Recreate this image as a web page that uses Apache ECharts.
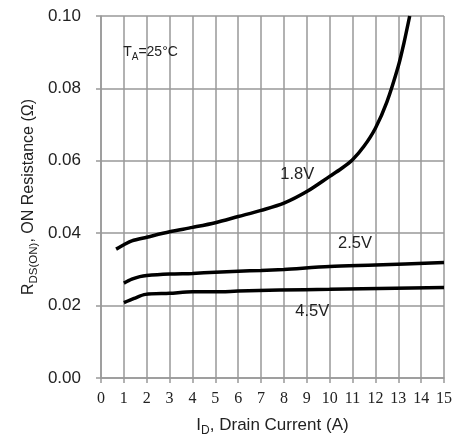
<!DOCTYPE html>
<html>
<head>
<meta charset="utf-8">
<script src="https://cdn.jsdelivr.net/npm/echarts@6/dist/echarts.min.js"></script>
<style>
  html, body { margin: 0; padding: 0; background: #fff; }
  #chart { width: 457px; height: 436px; }
</style>
</head>
<body>
<div id="chart"></div>
<script>
// drain current (A) and on resistance (ohm)
var current18 = [0.66, 1, 1.35, 2, 3, 4, 5, 6, 7, 8, 9, 10, 10.5, 11, 11.5, 12, 12.5, 13, 13.25, 13.5];
var rds18 = [0.0356, 0.0368, 0.0379, 0.0389, 0.0404, 0.0416, 0.0429, 0.0446, 0.0463, 0.0483, 0.0515, 0.0557, 0.0578, 0.0603, 0.064, 0.069, 0.0762, 0.0861, 0.0926, 0.100];

var current25 = [1, 1.35, 1.7, 2, 3, 4, 5, 6, 7, 8, 10, 12, 15];
var rds25 = [0.0262, 0.0273, 0.028, 0.0283, 0.0287, 0.0289, 0.0292, 0.0295, 0.0297, 0.0300, 0.0308, 0.0312, 0.0319];

var current45 = [1, 1.45, 1.95, 3, 4, 5, 6, 7.8, 10, 15];
var rds45 = [0.0208, 0.022, 0.0231, 0.0234, 0.0238, 0.0238, 0.024, 0.0243, 0.0245, 0.025];

var curveNames = ['1.8V', '2.5V', '4.5V'];
// where each curve label sits, in data units
var labelX = [8.58, 11.11, 9.24];
var labelY = [0.0561, 0.0373, 0.0185];

function pairs(xs, ys) {
    var out = [];
    for (var i = 0; i < xs.length; i++) out.push([xs[i], ys[i]]);
    return out;
}

var dom = document.getElementById('chart');
var myChart = echarts.init(dom);
var gridColor = '#999';
var sans = 'Liberation Sans, Arial, sans-serif';

// base text lifted a little so the small part reads as a subscript
function subRich(big, small) {
    return {
        b: { fontFamily: sans, fontSize: big, color: '#222', lineHeight: big + 3, verticalAlign: 'bottom', padding: [0, 0, 3, 0] },
        s: { fontFamily: sans, fontSize: small, color: '#222', lineHeight: small, verticalAlign: 'bottom' }
    };
}

function curve(idx, xs, ys) {
    return {
        name: curveNames[idx],
        type: 'line',
        smooth: 0.3,
        symbol: 'none',
        data: pairs(xs, ys),
        lineStyle: { color: '#000', width: 3.5 },
        markPoint: {
            symbol: 'circle',
            symbolSize: 0,
            label: {
                show: true,
                position: 'inside',
                formatter: curveNames[idx],
                fontFamily: sans,
                fontSize: 16.5,
                color: '#222'
            },
            data: [{ coord: [labelX[idx], labelY[idx]] }]
        }
    };
}

var option = {
    animation: false,
    backgroundColor: '#fff',
    grid: { left: 101, right: 13, top: 16, bottom: 58, outerBoundsMode: 'none' },
    xAxis: {
        type: 'value',
        min: 0, max: 15, interval: 1,
        name: '{b|I}{s|D}{b|, Drain Current (A)}',
        nameLocation: 'middle',
        nameGap: 39,
        nameTextStyle: { rich: subRich(17, 12) },
        axisLine: { lineStyle: { color: gridColor, width: 1.5 } },
        axisTick: { inside: false, length: 5, lineStyle: { color: gridColor, width: 1.5 } },
        axisLabel: { fontFamily: 'Liberation Serif, Times New Roman, serif', fontSize: 16, color: '#222', margin: 13 },
        splitLine: { show: true, lineStyle: { color: gridColor, width: 1.5 } }
    },
    yAxis: {
        type: 'value',
        min: 0, max: 0.1, interval: 0.02,
        name: '{b|R}{s|DS(ON)}{b|, ON Resistance (Ω)}',
        nameLocation: 'middle',
        nameGap: 61,
        nameMoveOverlap: false,
        nameTextStyle: { rich: subRich(16, 11.5) },
        axisLine: { show: true, lineStyle: { color: gridColor, width: 1.5 } },
        axisTick: { show: true, inside: false, length: 5, lineStyle: { color: gridColor, width: 1.5 } },
        axisLabel: {
            fontFamily: sans, fontSize: 17, color: '#222', margin: 20,
            formatter: function (v) { return v.toFixed(2); }
        },
        splitLine: { show: true, lineStyle: { color: gridColor, width: 1.5 } }
    },
    series: [
        curve(0, current18, rds18),
        curve(1, current25, rds25),
        curve(2, current45, rds45),
        {
            // temperature note
            type: 'scatter',
            data: [],
            markPoint: {
                symbol: 'circle',
                symbolSize: 0,
                label: {
                    show: true,
                    position: 'right',
                    distance: 0,
                    formatter: '{b|T}{s|A}{b|=25°C}',
                    rich: subRich(14, 10)
                },
                data: [{ coord: [0.97, 0.0896] }]
            }
        }
    ]
};

if (option && typeof option === 'object') {
    myChart.setOption(option, true);
}
</script>
</body>
</html>
